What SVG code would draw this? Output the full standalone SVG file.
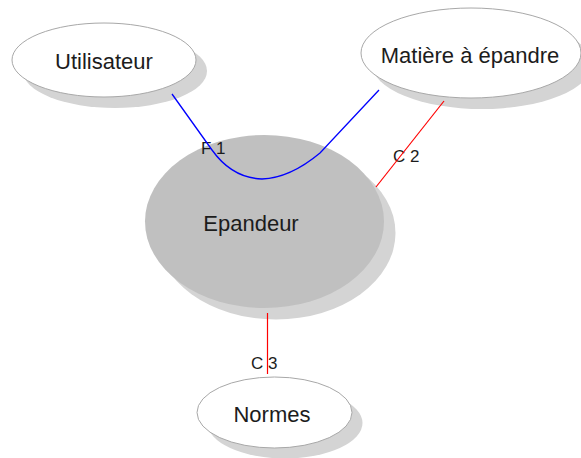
<svg xmlns="http://www.w3.org/2000/svg" width="581" height="458" viewBox="0 0 581 458">
<style>
.shadow{fill:#d4d4d4;stroke:none}
.node{fill:#ffffff;stroke:#a8a8a8;stroke-width:1}
.main{fill:#c0c0c0;stroke:none}
.t{font-family:"Liberation Sans",Arial,sans-serif;font-size:22px;fill:#1c1c1c;text-anchor:middle}
.lbl{font-family:"Liberation Sans",Arial,sans-serif;font-size:17px;fill:#1c1c1c}
.red{stroke:#ff0000;stroke-width:1.2;fill:none}
.blue{stroke:#0000ff;stroke-width:1.3;fill:none}
</style>
<rect width="581" height="458" fill="#ffffff"/>
<g id="utilisateur">
<ellipse class="shadow" cx="115" cy="71" rx="92" ry="37"/>
<ellipse class="node" cx="104" cy="60" rx="92" ry="37"/>
<text class="t" x="104" y="69">Utilisateur</text>
</g>
<g id="matiere">
<ellipse class="shadow" cx="482" cy="64" rx="110" ry="45"/>
<ellipse class="node" cx="471" cy="53" rx="110" ry="45"/>
<text class="t" x="470" y="63">Matière à épandre</text>
</g>
<g id="epandeur">
<ellipse class="shadow" cx="276" cy="233" rx="119.5" ry="86.5"/>
<ellipse class="main" cx="264.5" cy="221.5" rx="119.5" ry="86.5"/>
<text class="t" x="251" y="231">Epandeur</text>
</g>
<g id="normes">
<ellipse class="shadow" cx="285" cy="423" rx="77.5" ry="35.5"/>
<ellipse class="node" cx="274.5" cy="412.5" rx="77.5" ry="35.5"/>
<text class="t" x="272" y="422">Normes</text>
</g>
<g id="connectors">
<text class="lbl" x="201" y="154">F 1</text>
<text class="lbl" x="393" y="162">C 2</text>
<text class="lbl" x="251" y="369">C 3</text>
<path class="blue" d="M172,94 L212,150 Q232,178 262,179 Q290,178 320,153 L379,90"/>
<line class="red" x1="444" y1="101" x2="376" y2="187"/>
<line class="red" x1="267.5" y1="313" x2="267.5" y2="374"/>
</g>
</svg>
